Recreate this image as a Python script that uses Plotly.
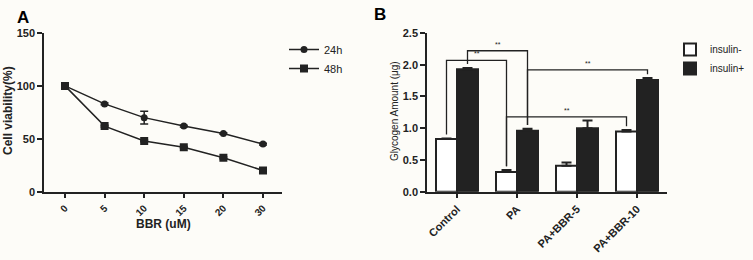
import plotly.graph_objects as go

# ---------------- Data ----------------
# Panel A
bbr_labels = ["0", "5", "10", "15", "20", "30"]
via_24h = [100, 83, 70, 62, 55, 45]
via_24h_err = [0.8, 0.8, 6, 0.8, 0.8, 0.8]
via_48h = [100, 62, 48, 42, 32, 20]
via_48h_err = [0.8, 0.8, 0.8, 0.8, 0.8, 0.8]

# Panel B
groups = ["Control", "PA", "PA+BBR-5", "PA+BBR-10"]
ins_minus = [0.83, 0.31, 0.41, 0.95]
ins_minus_err = [0.01, 0.03, 0.05, 0.02]
ins_plus = [1.93, 0.96, 1.00, 1.76]
ins_plus_err = [0.02, 0.03, 0.12, 0.03]

# significance comparisons: (group a, series a, group b, series b, bracket height)
# series 0 = insulin-, 1 = insulin+
comparisons = [
    (0, 0, 1, 0, 2.07),
    (0, 1, 1, 1, 2.22),
    (1, 1, 3, 1, 1.92),
    (1, 0, 3, 0, 1.18),
]

INK = "#222222"
BG = "#fdfcf8"
FONT = "Arial, Liberation Sans, sans-serif"
W, H = 753, 260

fig = go.Figure()

xi = list(range(len(bbr_labels)))
fig.add_trace(go.Scatter(
    x=xi, y=via_24h, mode="lines+markers", name="24h",
    line=dict(color=INK, width=1.5),
    marker=dict(symbol="circle", size=7, color=INK),
    error_y=dict(type="data", array=via_24h_err, color=INK, thickness=1.5, width=4),
    xaxis="x", yaxis="y", legend="legend",
))
fig.add_trace(go.Scatter(
    x=xi, y=via_48h, mode="lines+markers", name="48h",
    line=dict(color=INK, width=1.5),
    marker=dict(symbol="square", size=8, color=INK),
    error_y=dict(type="data", array=via_48h_err, color=INK, thickness=1.5, width=4),
    xaxis="x", yaxis="y", legend="legend",
))

gi = list(range(len(groups)))
fig.add_trace(go.Bar(
    x=gi, y=ins_minus, name="insulin-",
    marker=dict(color="white", line=dict(color=INK, width=2)),
    error_y=dict(type="data", symmetric=False, array=ins_minus_err,
                 arrayminus=[0] * len(groups), color=INK, thickness=2, width=5),
    xaxis="x2", yaxis="y2", legend="legend2",
))
fig.add_trace(go.Bar(
    x=gi, y=ins_plus, name="insulin+",
    marker=dict(color=INK, line=dict(color=INK, width=2)),
    error_y=dict(type="data", symmetric=False, array=ins_plus_err,
                 arrayminus=[0] * len(groups), color=INK, thickness=2, width=5),
    xaxis="x2", yaxis="y2", legend="legend2",
))

# brackets
bar_w = 0.35
vals = [ins_minus, ins_plus]
errs = [ins_minus_err, ins_plus_err]
shapes = []
annotations = []
for ga, sa, gb, sb, h in comparisons:
    xa = ga + (sa - 0.5) * bar_w
    xb = gb + (sb - 0.5) * bar_w
    ya = min(vals[sa][ga] + errs[sa][ga] + 0.06, h)
    yb = min(vals[sb][gb] + errs[sb][gb] + 0.06, h)
    path = f"M {xa},{ya} L {xa},{h} L {xb},{h} L {xb},{yb}"
    shapes.append(dict(type="path", path=path, xref="x2", yref="y2",
                       line=dict(color=INK, width=1.3)))
    annotations.append(dict(x=(xa + xb) / 2, y=h, xref="x2", yref="y2",
                            text="**", showarrow=False, yanchor="bottom", yshift=1,
                            font=dict(size=7, color=INK, family=FONT)))

# panel letters
annotations.append(dict(x=15 / W, y=1 - 6 / H, xref="paper", yref="paper",
                        text="<b>A</b>", showarrow=False, xanchor="left", yanchor="top",
                        font=dict(size=17, color="black", family=FONT)))
annotations.append(dict(x=372 / W, y=1 - 3 / H, xref="paper", yref="paper",
                        text="<b>B</b>", showarrow=False, xanchor="left", yanchor="top",
                        font=dict(size=17, color="black", family=FONT)))
# axis titles
annotations.append(dict(x=163 / W, y=1 - 224 / H, xref="paper", yref="paper",
                        text="<b>BBR (uM)</b>", showarrow=False,
                        xanchor="center", yanchor="middle",
                        font=dict(size=12, color=INK, family=FONT)))
annotations.append(dict(x=8 / W, y=1 - 111 / H, xref="paper", yref="paper",
                        text="<b>Cell viability(%)</b>", showarrow=False, textangle=-90,
                        xanchor="center", yanchor="middle",
                        font=dict(size=12, color=INK, family=FONT)))
annotations.append(dict(x=394 / W, y=1 - 111 / H, xref="paper", yref="paper",
                        text="Glycogen Amount (μg)", showarrow=False, textangle=-90,
                        xanchor="center", yanchor="middle",
                        font=dict(size=10, color=INK, family=FONT)))

ytop = 1 - 33 / H
ybot = 1 - 191.7 / H

axis_common = dict(showline=True, linecolor=INK, linewidth=1.5, ticks="outside",
                   tickcolor=INK, tickwidth=1.5, ticklen=5, showgrid=False,
                   zeroline=False, mirror=False, automargin=False)

fig.update_layout(
    width=W, height=H,
    margin=dict(l=0, r=0, t=0, b=0),
    paper_bgcolor=BG, plot_bgcolor=BG,
    font=dict(family=FONT, color=INK),
    barmode="group", bargap=0.3, bargroupgap=0,
    shapes=shapes, annotations=annotations,
    xaxis=dict(domain=[44 / W, 282 / W], anchor="y", range=[-0.53, 5.48],
               tickvals=xi, ticktext=bbr_labels, tickangle=-45,
               tickfont=dict(size=10, weight="bold", family=FONT, color=INK),
               **axis_common),
    yaxis=dict(domain=[ybot, ytop], anchor="x", range=[0, 150],
               tickvals=[0, 50, 100, 150],
               tickfont=dict(size=11, weight="bold", family=FONT, color=INK),
               **axis_common),
    xaxis2=dict(domain=[427 / W, 667 / W], anchor="y2", range=[-0.5, 3.5],
                tickvals=gi, ticktext=groups, tickangle=-45,
                tickfont=dict(size=11, weight="bold", family=FONT, color=INK),
                **axis_common),
    yaxis2=dict(domain=[ybot, ytop], anchor="x2", range=[0, 2.5],
                tickvals=[0, 0.5, 1.0, 1.5, 2.0, 2.5], tickformat=".1f",
                tickfont=dict(size=11, weight="bold", family=FONT, color=INK),
                **axis_common),
    legend=dict(x=284 / W, y=1 - 35 / H, xanchor="left", yanchor="top",
                bgcolor="rgba(0,0,0,0)", font=dict(size=11, family=FONT, color=INK),
                itemwidth=30, tracegroupgap=0),
    legend2=dict(x=670 / W, y=1 - 35 / H, xanchor="left", yanchor="top",
                 bgcolor="rgba(0,0,0,0)", font=dict(size=10, family=FONT, color=INK),
                 itemwidth=30, tracegroupgap=0),
)

fig.write_html(
    "out.html",
    config={"displayModeBar": False},
    post_script="document.body.style.margin='0';document.body.style.background='%s';" % BG,
)
